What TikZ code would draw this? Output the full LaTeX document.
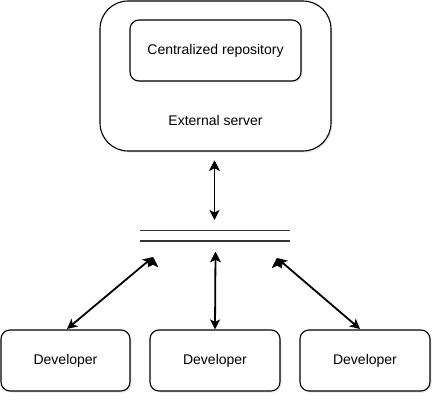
\documentclass[tikz,border=0pt]{standalone}
\usepackage{fontspec}
\setmainfont{Liberation Sans}
\usetikzlibrary{arrows.meta,shadows}
\tikzset{
  box/.style={shape=rectangle, draw=black, line width=1.1pt, fill=white, rounded corners=9pt,
    drop shadow={opacity=0.18, shadow xshift=1.5pt, shadow yshift=-1.5pt}},
  lbl/.style={font=\fontsize{14}{16}\selectfont},
  link/.style={{Stealth[length=10pt,width=10pt,inset=2.5pt]}-{Stealth[length=10pt,width=10pt,inset=2.5pt]}, line width=1.8pt, draw=black},
  busline/.style={line width=1.6pt, draw=black!80}
}
\begin{document}
\begin{tikzpicture}[x=1pt, y=-1pt]
\useasboundingbox (0,0) rectangle (443,403);
\node[box, rounded corners=28pt, minimum width=231pt, minimum height=150pt] (server) at (215.5,76) {};
\node[box, lbl, minimum width=171pt, minimum height=61pt, drop shadow={opacity=0}] (repo) at (215.5,50.5) {Centralized repository};
\node[lbl] (srvtext) at (215.5,120) {External server};
\node[minimum width=150pt, minimum height=10pt, inner sep=0pt] (bus) at (215,235.5) {};
\node[box, lbl, minimum width=129pt, minimum height=61pt] (dev1) at (65.5,360.5) {Developer};
\node[box, lbl, minimum width=130pt, minimum height=61pt] (dev2) at (215,360.5) {Developer};
\node[box, lbl, minimum width=130pt, minimum height=61pt] (dev3) at (365,360.5) {Developer};
\coordinate (top) at (214.5,220);
\coordinate (busL) at (153,257);
\coordinate (busM) at (215.5,252);
\coordinate (busR) at (277,258);
\coordinate (endL) at (67,329);
\coordinate (endR) at (360,329);
\path [busline] (bus.north west) edge (bus.north east);
\path [busline] (bus.south west) edge (bus.south east);
\path [link] ([xshift=-1pt,yshift=-9pt]server.south) edge (top);
\path [link] (busL) edge (endL);
\path [link] (busM) edge (dev2.north);
\path [link] (busR) edge (endR);
\end{tikzpicture}
\end{document}
